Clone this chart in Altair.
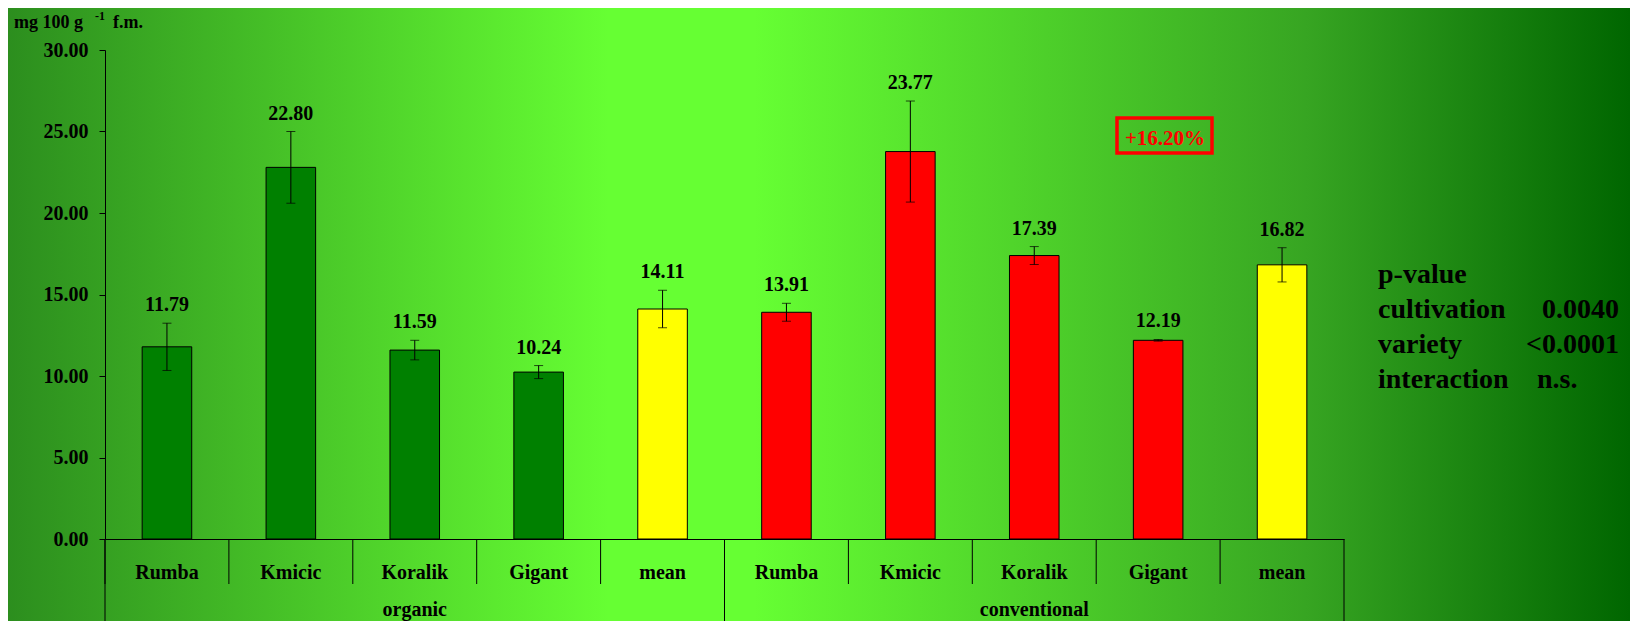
import altair as alt
import pandas as pd

# ---------------- data ----------------
groups = ["organic", "conventional"]
varieties = ["Rumba", "Kmicic", "Koralik", "Gigant", "mean"]
organic_values = [11.79, 22.80, 11.59, 10.24, 14.11]
organic_err = [1.45, 2.20, 0.60, 0.40, 1.15]
conventional_values = [13.91, 23.77, 17.39, 12.19, 16.82]
conventional_err = [0.55, 3.10, 0.55, 0.05, 1.05]
y_ticks = [0, 5, 10, 15, 20, 25, 30]
unit_parts = ["mg 100 g", "-1", "f.m."]
annotation = "+16.20%"
pvalue_names = ["p-value", "cultivation", "variety", "interaction"]
pvalue_values = ["0.0040", "<0.0001", "n.s."]

rows = []
for g, vals, errs in [("organic", organic_values, organic_err),
                      ("conventional", conventional_values, conventional_err)]:
    for v, val, e in zip(varieties, vals, errs):
        rows.append(dict(key=f"{g}|{v}", group=g, variety=v, value=val,
                         lo=val - e, hi=val + e,
                         kind="mean" if v == "mean" else g,
                         label=f"{val:.2f}"))
df = pd.DataFrame(rows)
keys = list(df["key"])
grp_df = pd.DataFrame([{"key": f"{g}|Koralik", "group": g} for g in groups])
start_df = df[df["variety"] == "Rumba"]
end_df = df.tail(1)

W, H = 1239, 489
FONT = "Liberation Serif"
xscale = alt.Scale(domain=keys, paddingInner=0, paddingOuter=0)
yscale = alt.Scale(domain=[0, 30])

xaxis = alt.Axis(labels=False, ticks=False, domain=True, domainColor="black",
                 domainWidth=1, title=None, grid=False, zindex=2)
yaxis = alt.Axis(values=y_ticks, format=".2f", title=None, grid=False,
                 labelFont=FONT, labelFontSize=20, labelFontWeight="bold",
                 labelColor="black", tickColor="black", tickSize=6, tickWidth=1,
                 domainColor="black", domainWidth=1, labelPadding=11, zindex=2)


def X(**kw):
    return alt.X("key:N", scale=xscale, axis=xaxis, **kw)


def Y(field):
    return alt.Y(field, scale=yscale, axis=yaxis, stack=None)


base = alt.Chart(df)

grad = alt.LinearGradient(
    gradient="linear",
    stops=[alt.GradientStop(offset=0, color="#2c8e1e"),
           alt.GradientStop(offset=0.37, color="#66ff33"),
           alt.GradientStop(offset=0.46, color="#66ff33"),
           alt.GradientStop(offset=0.80, color="#37a522"),
           alt.GradientStop(offset=1, color="#006600")],
    x1=0, x2=1, y1=0, y2=0)

bg = alt.Chart(alt.Data(values=[{"a": 1}])).mark_rect(fill=grad, strokeWidth=0).encode(
    x=alt.value(-97), x2=alt.value(1525), y=alt.value(-42), y2=alt.value(571))

bars = base.mark_bar(width=alt.RelativeBandSize(0.4), stroke="black", strokeWidth=1).encode(
    x=X(),
    y=Y("value:Q"),
    color=alt.Color("kind:N", scale=alt.Scale(domain=["organic", "conventional", "mean"],
                                              range=["#008000", "#ff0000", "#ffff00"]),
                    legend=None),
)

err = base.mark_rule(color="black", strokeWidth=1).encode(
    x=X(), y=Y("lo:Q"), y2="hi:Q")
cap_lo = base.mark_tick(color="black", thickness=1, size=9).encode(
    x=X(), y=Y("lo:Q"))
cap_hi = base.mark_tick(color="black", thickness=1, size=9).encode(
    x=X(), y=Y("hi:Q"))

labels = base.mark_text(font=FONT, fontSize=20, fontWeight="bold", color="black",
                        baseline="alphabetic", dy=-12).encode(
    x=X(), y=Y("hi:Q"), text="label:N")

cat_lines = base.mark_rule(color="black", strokeWidth=1).encode(
    x=X(bandPosition=0), y=alt.value(H), y2=alt.value(H + 45))
grp_lines = alt.Chart(start_df).mark_rule(color="black", strokeWidth=1).encode(
    x=X(bandPosition=0), y=alt.value(H), y2=alt.value(H + 100))
end_line = alt.Chart(end_df).mark_rule(color="black", strokeWidth=1).encode(
    x=X(bandPosition=1), y=alt.value(H), y2=alt.value(H + 100))

var_text = base.mark_text(font=FONT, fontSize=20, fontWeight="bold", color="black",
                          baseline="alphabetic").encode(
    x=X(), y=alt.value(H + 40), text="variety:N")
grp_text = alt.Chart(grp_df).mark_text(font=FONT, fontSize=20, fontWeight="bold",
                                       color="black", baseline="alphabetic").encode(
    x=X(), y=alt.value(H + 77), text="group:N")

one = alt.Chart(alt.Data(values=[{"a": 1}]))
unit1 = one.mark_text(font=FONT, fontSize=18, fontWeight="bold", color="black",
                      align="left", baseline="alphabetic").encode(
    x=alt.value(-91), y=alt.value(-22), text=alt.value(unit_parts[0]))
unit2 = one.mark_text(font=FONT, fontSize=12, fontWeight="bold", color="black",
                      align="left", baseline="alphabetic").encode(
    x=alt.value(-10), y=alt.value(-30), text=alt.value(unit_parts[1]))
unit3 = one.mark_text(font=FONT, fontSize=18, fontWeight="bold", color="black",
                      align="left", baseline="alphabetic").encode(
    x=alt.value(8), y=alt.value(-22), text=alt.value(unit_parts[2]))

ann_box = one.mark_rect(fill=None, stroke="#ff0000", strokeWidth=3.5).encode(
    x=alt.value(1012), x2=alt.value(1107), y=alt.value(68), y2=alt.value(103))
ann_text = one.mark_text(font=FONT, fontSize=21, fontWeight="bold", color="#ff0000",
                         align="center", baseline="alphabetic").encode(
    x=alt.value(1060), y=alt.value(95), text=alt.value(annotation))

pv_names = one.mark_text(font=FONT, fontSize=28, fontWeight="bold", color="black",
                         align="left", baseline="alphabetic", lineHeight=35).encode(
    x=alt.value(1273), y=alt.value(233), text=alt.value(pvalue_names))
pv1 = one.mark_text(font=FONT, fontSize=28, fontWeight="bold", color="black",
                    align="right", baseline="alphabetic").encode(
    x=alt.value(1514), y=alt.value(268), text=alt.value(pvalue_values[0]))
pv2 = one.mark_text(font=FONT, fontSize=28, fontWeight="bold", color="black",
                    align="right", baseline="alphabetic").encode(
    x=alt.value(1514), y=alt.value(303), text=alt.value(pvalue_values[1]))
pv3 = one.mark_text(font=FONT, fontSize=28, fontWeight="bold", color="black",
                    align="left", baseline="alphabetic").encode(
    x=alt.value(1432), y=alt.value(338), text=alt.value(pvalue_values[2]))

chart = alt.layer(
    bg, bars, err, cap_lo, cap_hi, labels, cat_lines, grp_lines, end_line,
    var_text, grp_text, unit1, unit2, unit3, ann_box, ann_text,
    pv_names, pv1, pv2, pv3,
).properties(
    width=W, height=H,
    autosize=alt.AutoSizeParams(type="none"),
    padding={"left": 97, "top": 42, "right": 286, "bottom": 82},
).configure_view(stroke=None).configure(background="transparent")

chart.save("out.html", embed_options={"renderer": "svg", "actions": False})
